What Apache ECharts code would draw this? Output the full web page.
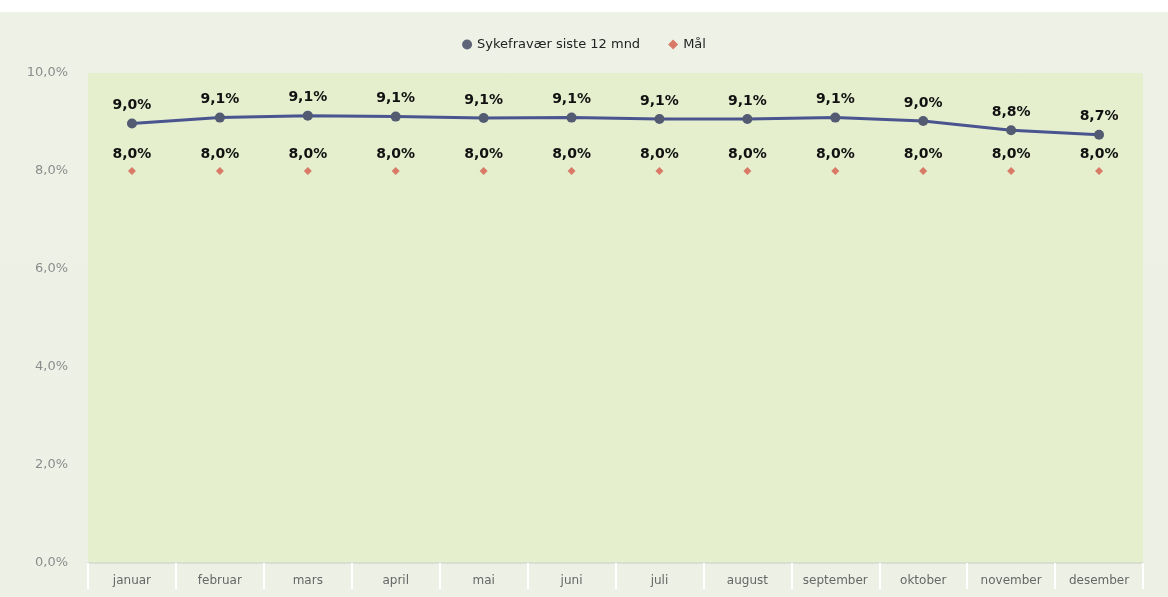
<!DOCTYPE html>
<html>
<head>
<meta charset="utf-8">
<script src="https://cdn.jsdelivr.net/npm/echarts@6/dist/echarts.min.js"></script>
<style>
html,body{margin:0;padding:0;background:#fff;}
#chart{width:1168px;height:597px;background:linear-gradient(to bottom,#ffffff 0px,#ffffff 12px,#eef2e6 12px,#edf1e5 100%);}
</style>
</head>
<body>
<div id="chart"></div>
<script>
const categories = ['januar','februar','mars','april','mai','juni','juli','august','september','oktober','november','desember'];
const sickLeave = [8.97, 9.09, 9.13, 9.11, 9.08, 9.09, 9.06, 9.06, 9.09, 9.02, 8.83, 8.74];
const target = [8.0, 8.0, 8.0, 8.0, 8.0, 8.0, 8.0, 8.0, 8.0, 8.0, 8.0, 8.0];
const yTicks = [0, 2, 4, 6, 8, 10];

const fmt = v => v.toFixed(1).replace('.', ',') + '%';
const labelStyle = {
  show: true, position: 'top', distance: 6,
  fontFamily: 'DejaVu Sans', fontWeight: 'bold', fontSize: 14, color: '#111',
  formatter: p => fmt(p.value)
};

const chart = echarts.init(document.getElementById('chart'));
chart.setOption({
  animation: false,
  legend: {
    top: 33, left: 'center', itemGap: 28, itemWidth: 10, itemHeight: 10,
    textStyle: { fontFamily: 'DejaVu Sans', fontSize: 13, color: '#222' },
    data: [
      { name: 'Sykefravær siste 12 mnd', icon: 'circle', itemStyle: { color: '#5f6578' } },
      { name: 'Mål', icon: 'diamond', itemStyle: { color: '#d87a66' } }
    ]
  },
  grid: {
    left: 88, right: 25, top: 73, bottom: 34,
    show: true, backgroundColor: '#e5eecd', borderWidth: 0
  },
  xAxis: {
    type: 'category', data: categories, boundaryGap: true,
    axisLine: { show: true, lineStyle: { color: '#d8dfd0', width: 2 } },
    axisTick: { show: true, length: 26, lineStyle: { color: '#ffffff', width: 2 } },
    axisLabel: { margin: 12, fontFamily: 'DejaVu Sans', fontSize: 12, color: '#666' },
    splitLine: { show: false }
  },
  yAxis: {
    type: 'value', min: yTicks[0], max: yTicks[yTicks.length - 1], interval: 2,
    axisLine: { show: false }, axisTick: { show: false },
    splitLine: { show: false },
    axisLabel: { margin: 20, fontFamily: 'DejaVu Sans', fontSize: 13, color: '#8c8c8c',
      formatter: v => fmt(v) }
  },
  series: [
    {
      name: 'Sykefravær siste 12 mnd', type: 'line', data: sickLeave,
      symbol: 'circle', symbolSize: 10,
      lineStyle: { color: '#4a5590', width: 3 },
      itemStyle: { color: '#535b72' },
      label: labelStyle, z: 3
    },
    {
      name: 'Mål', type: 'line', data: target,
      symbol: 'diamond', symbolSize: 8,
      lineStyle: { width: 0, opacity: 0 },
      itemStyle: { color: '#d87a66' },
      label: labelStyle, z: 2
    }
  ]
});
</script>
</body>
</html>
